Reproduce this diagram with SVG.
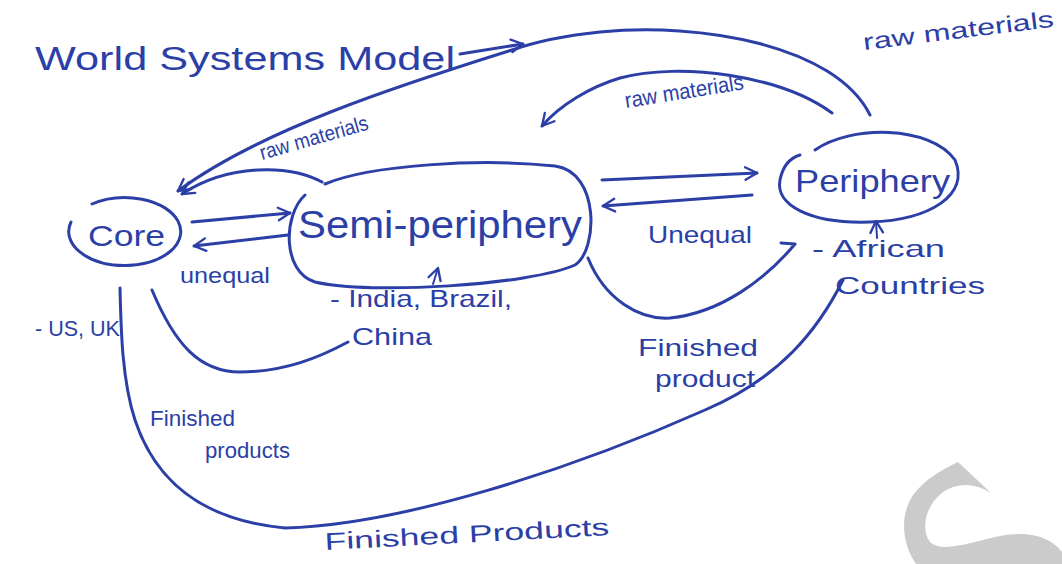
<svg xmlns="http://www.w3.org/2000/svg" width="1062" height="564" viewBox="0 0 1062 564">
<defs>
<style>
.ink{fill:none;stroke:#2b3fa6;stroke-width:3;stroke-linecap:round;stroke-linejoin:round}
.t{fill:#2b3fa6;font-family:"Liberation Sans",Arial,sans-serif}
</style>
<marker id="ah" viewBox="0 0 20 20" refX="17" refY="10" markerWidth="18" markerHeight="18" markerUnits="userSpaceOnUse" orient="auto">
<path d="M4,3 L17,10 L4,17" fill="none" stroke="#2b3fa6" stroke-width="2.6" stroke-linecap="round" stroke-linejoin="round"/>
</marker>
</defs>
<rect width="1062" height="564" fill="#ffffff"/>
<path d="M958,462 L991,493 C975,483 958,482 943,492 C926,505 920,528 930,542 C942,553 968,543 1000,536 C1030,530 1052,538 1062,552 L1062,564 L916,564 C903,545 900,520 910,500 C922,480 942,470 958,462 Z" fill="#cbcbcb"/>
<g id="title">
<text class="t" x="35" y="70" font-size="34" textLength="420" lengthAdjust="spacingAndGlyphs">World Systems Model</text>
</g>
<g id="connectors">
<path class="ink" d="M460,54 L523,44" marker-end="url(#ah)"/>
<path class="ink" d="M870,115 C835,45 700,22 600,32 C560,36 535,42 512,50 C400,85 260,130 178,191" marker-end="url(#ah)"/>
<path class="ink" d="M832,113 C780,75 680,62 620,78 C590,87 560,105 542,126" marker-end="url(#ah)"/>
<path class="ink" d="M322,182 C290,165 230,163 182,194" marker-end="url(#ah)"/>
<path class="ink" d="M192,222 L290,213" marker-end="url(#ah)"/>
<path class="ink" d="M288,235 L194,246" marker-end="url(#ah)"/>
<path class="ink" d="M602,180 L757,173" marker-end="url(#ah)"/>
<path class="ink" d="M752,195 L603,206" marker-end="url(#ah)"/>
<path class="ink" d="M152,290 C175,345 200,372 240,372 C285,372 320,357 348,342"/>
<path class="ink" d="M588,258 C605,300 640,320 670,318 C720,313 765,280 795,244 L781,243"/>
<path class="ink" d="M120,288 C121,330 122,380 135,420 C155,480 200,520 285,528 C400,525 570,470 705,410 C780,378 818,330 843,280"/>
<path class="ink" d="M433,284 L438,268" marker-end="url(#ah)" style="stroke-width:2"/>
<path class="ink" d="M877,238 L876,221" marker-end="url(#ah)" style="stroke-width:2"/>
</g>
<g id="core">
<path class="ink" d="M92,204 A56,34 0 1 1 71,222"/>
<text class="t" x="88" y="246" font-size="30" textLength="77" lengthAdjust="spacingAndGlyphs">Core</text>
</g>
<g id="semi-periphery">
<path class="ink" d="M325,184 C370,165 480,158 555,166 C600,172 598,250 575,265 C530,285 370,295 315,282 C282,272 283,215 305,195"/>
<text class="t" x="298" y="238" font-size="38" textLength="284" lengthAdjust="spacingAndGlyphs">Semi-periphery</text>
</g>
<g id="periphery">
<path class="ink" d="M815,150 C850,125 930,125 955,160 C970,195 930,220 870,222 C810,224 775,205 780,180 C783,165 790,158 800,155"/>
<text class="t" x="795" y="192" font-size="32" textLength="155" lengthAdjust="spacingAndGlyphs">Periphery</text>
</g>
<g id="labels">
<text class="t" x="864" y="50" font-size="23" textLength="192" lengthAdjust="spacingAndGlyphs" transform="rotate(-7 864 50)">raw materials</text>
<text class="t" x="626" y="108" font-size="22" textLength="120" lengthAdjust="spacingAndGlyphs" transform="rotate(-9 626 108)">raw materials</text>
<text class="t" x="262" y="160" font-size="21" textLength="112" lengthAdjust="spacingAndGlyphs" transform="rotate(-16 262 160)">raw materials</text>
<text class="t" x="180" y="283" font-size="22" textLength="90" lengthAdjust="spacingAndGlyphs">unequal</text>
<text class="t" x="648" y="243" font-size="24" textLength="104" lengthAdjust="spacingAndGlyphs">Unequal</text>
<text class="t" x="330" y="307" font-size="24" textLength="182" lengthAdjust="spacingAndGlyphs">- India, Brazil,</text>
<text class="t" x="352" y="345" font-size="24" textLength="80" lengthAdjust="spacingAndGlyphs">China</text>
<text class="t" x="35" y="336" font-size="22" textLength="85" lengthAdjust="spacingAndGlyphs">- US, UK</text>
<text class="t" x="812" y="257" font-size="24" textLength="133" lengthAdjust="spacingAndGlyphs">- African</text>
<text class="t" x="835" y="294" font-size="24" textLength="150" lengthAdjust="spacingAndGlyphs">Countries</text>
<text class="t" x="638" y="356" font-size="24" textLength="120" lengthAdjust="spacingAndGlyphs">Finished</text>
<text class="t" x="655" y="387" font-size="24" textLength="100" lengthAdjust="spacingAndGlyphs">product</text>
<text class="t" x="150" y="426" font-size="22" textLength="85" lengthAdjust="spacingAndGlyphs">Finished</text>
<text class="t" x="205" y="458" font-size="22" textLength="85" lengthAdjust="spacingAndGlyphs">products</text>
<text class="t" x="325" y="550" font-size="24" textLength="285" lengthAdjust="spacingAndGlyphs" transform="rotate(-3 325 550)">Finished Products</text>
</g>
</svg>
